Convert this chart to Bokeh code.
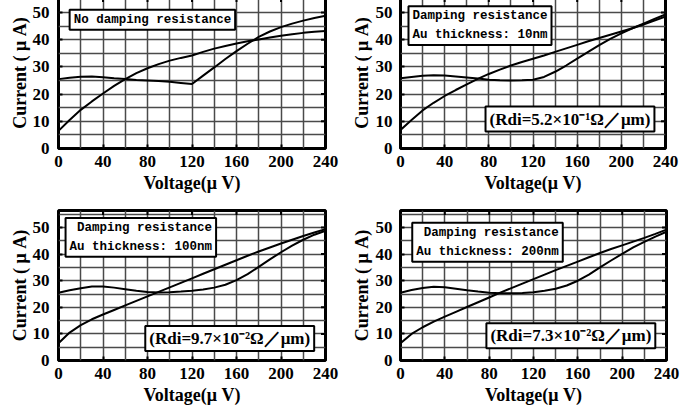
import numpy as np
from bokeh.plotting import figure
from bokeh.layouts import column, row
from bokeh.models import Range1d, SingleIntervalTicker, Grid, Label, ColumnDataSource
from bokeh.embed import file_html
from bokeh.resources import INLINE

voltage = [0, 10, 20, 30, 40, 50, 60, 70, 80, 90, 100, 110, 120, 130, 140, 150, 160, 170, 180, 190, 200, 210, 220, 230, 240]

p1_a = [6.5, 10.5, 14.2, 17.3, 20.2, 23.0, 25.5, 27.7, 29.5, 31.0, 32.3, 33.3, 34.2, 35.5, 36.7, 37.7, 38.6, 39.4, 40.1, 40.8, 41.4, 42.0, 42.5, 42.9, 43.2]
p1_b = [25.5, 26.0, 26.4, 26.5, 26.2, 25.8, 25.5, 25.2, 25.0, 24.8, 24.5, 24.1, 23.7, 26.8, 29.8, 32.9, 35.8, 38.5, 41.0, 43.0, 44.6, 45.9, 47.0, 48.0, 48.8]

p2_a = [6.8, 10.5, 14.0, 16.8, 19.3, 21.5, 23.6, 25.6, 27.4, 29.0, 30.5, 31.8, 33.0, 34.2, 35.5, 36.8, 38.1, 39.4, 40.6, 41.8, 43.0, 44.2, 45.6, 47.0, 48.5]
p2_b = [25.8, 26.3, 26.7, 26.9, 26.8, 26.5, 26.1, 25.7, 25.3, 25.1, 25.0, 25.1, 25.3, 26.3, 28.2, 30.5, 33.0, 35.5, 38.0, 40.3, 42.3, 44.2, 45.9, 47.6, 49.3]

p3_a = [6.5, 10.5, 13.3, 15.5, 17.3, 19.0, 20.7, 22.4, 24.1, 25.8, 27.5, 29.2, 30.9, 32.6, 34.3, 36.0, 37.7, 39.4, 41.0, 42.5, 44.0, 45.4, 46.8, 48.1, 49.4]
p3_b = [25.5, 26.4, 27.2, 27.8, 27.8, 27.4, 26.8, 26.2, 25.8, 25.6, 25.7, 25.9, 26.2, 26.7, 27.4, 28.5, 30.2, 32.5, 35.2, 38.0, 40.7, 43.2, 45.4, 47.3, 48.8]

p4_a = [6.5, 10.0, 12.5, 14.6, 16.5, 18.3, 20.1, 21.9, 23.7, 25.5, 27.2, 28.9, 30.6, 32.3, 34.0, 35.6, 37.2, 38.8, 40.4, 41.9, 43.3, 44.7, 46.1, 47.6, 49.2]
p4_b = [25.5, 26.5, 27.3, 27.7, 27.5, 27.0, 26.4, 25.9, 25.5, 25.3, 25.3, 25.4, 25.7, 26.2, 27.0, 28.2, 30.0, 32.3, 35.0, 37.6, 40.1, 42.5, 44.6, 46.6, 48.4]

x_ticks = [0, 40, 80, 120, 160, 200, 240]
y_ticks = [0, 10, 20, 30, 40, 50]

titles = ["No damping resistance",
          "Damping resistance\nAu thickness: 10nm",
          "\u00a0Damping resistance\nAu thickness: 100nm",
          "\u00a0Damping resistance\nAu thickness: 200nm"]
rdi_labels = [None,
              "(Rdi=5.2×10⁻¹Ω／μm)",
              "(Rdi=9.7×10⁻²Ω／μm)",
              "(Rdi=7.3×10⁻²Ω／μm)"]

x_label = "Voltage(μ V)"
y_label = "Current ( μ A)"

TICK_FONT = "Liberation Serif"
BOX_FONT = "Liberation Mono"


def make_panel(a, b, y_end, fw, fh, bl, br, bt, bb, tick_std, lab_std, title, tpos, talign, rdi, rpos):
    p = figure(frame_width=fw, frame_height=fh, output_backend="svg", toolbar_location=None,
               x_range=Range1d(0, 240), y_range=Range1d(0, y_end),
               min_border_left=bl, min_border_right=br, min_border_top=bt, min_border_bottom=bb)
    p.outline_line_color = "black"
    p.outline_line_width = 3
    p.xaxis.ticker = SingleIntervalTicker(interval=40)
    p.yaxis.ticker = SingleIntervalTicker(interval=10)
    p.xgrid.visible = False
    p.ygrid.visible = False
    p.add_layout(Grid(dimension=0, ticker=SingleIntervalTicker(interval=20),
                      grid_line_color="#4a4a4a", grid_line_width=1.5))
    p.add_layout(Grid(dimension=1, ticker=SingleIntervalTicker(interval=5),
                      grid_line_color="#4a4a4a", grid_line_width=1.5))
    for ax in (p.xaxis, p.yaxis):
        ax.axis_line_color = None
        ax.major_tick_in = 4
        ax.major_tick_out = 0
        ax.major_tick_line_width = 2
        ax.minor_tick_line_color = None
        ax.major_label_text_font = TICK_FONT
        ax.major_label_text_font_style = "bold"
        ax.major_label_text_font_size = "17px"
        ax.major_label_text_color = "black"
        ax.axis_label_text_font = TICK_FONT
        ax.axis_label_text_font_style = "bold"
        ax.axis_label_text_font_size = "18px"
        ax.axis_label_text_color = "black"
    p.xaxis.axis_label = x_label
    p.yaxis.axis_label = y_label
    p.xaxis.major_label_standoff = 3
    p.xaxis.axis_label_standoff = 3
    p.yaxis.major_label_standoff = tick_std
    p.yaxis.axis_label_standoff = lab_std

    # inward ticks on the right and top edges of the frame
    p.scatter(x=[240] * len(y_ticks), y=y_ticks, marker="dash", size=9,
              line_color="black", line_width=2)
    p.scatter(x=x_ticks, y=[y_end] * len(x_ticks), marker="dash", angle=np.pi / 2, size=9,
              line_color="black", line_width=2)

    src = ColumnDataSource(dict(v=voltage, a=a, b=b))
    p.line("v", "a", source=src, line_color="black", line_width=2)
    p.line("v", "b", source=src, line_color="black", line_width=2)

    p.add_layout(Label(x=tpos[0], y=tpos[1], text=title, text_align=talign, text_baseline="top",
                       text_font=BOX_FONT, text_font_style="bold", text_font_size="12.5px",
                       text_color="black", text_line_height=1.35,
                       background_fill_color="white", border_line_color="black",
                       border_line_width=2, padding=(4, 3)))
    if rdi is not None:
        p.add_layout(Label(x=rpos[0], y=rpos[1], text=rdi, text_align="left", text_baseline="top",
                           text_font=TICK_FONT, text_font_style="bold", text_font_size="17px",
                           text_color="black",
                           background_fill_color="white", border_line_color="black",
                           border_line_width=2, padding=(4, 3)))
    return p


p1 = make_panel(p1_a, p1_b, 55.5, 267, 151, 58, 23, 0, 57, 5, 0, titles[0], (10, 51.0), "left", None, None)
p2 = make_panel(p2_a, p2_b, 55.5, 265, 151, 47, 36, 0, 57, 4, 1, titles[1], (72, 52.3), "center", rdi_labels[1], (77, 15.4))
p3 = make_panel(p3_a, p3_b, 56.4, 267, 150, 58, 23, 4, 52, 5, 0, titles[2], (74, 53.6), "center", rdi_labels[2], (78, 13.0))
p4 = make_panel(p4_a, p4_b, 56.4, 266, 150, 49, 33, 5, 51, 4, 1, titles[3], (78.5, 51.8), "center", rdi_labels[3], (77.5, 14.0))

layout = column(row(p1, p2), row(p3, p4), styles={"margin-top": "-3px"})

open("out.html", "w").write(file_html(layout, INLINE))
